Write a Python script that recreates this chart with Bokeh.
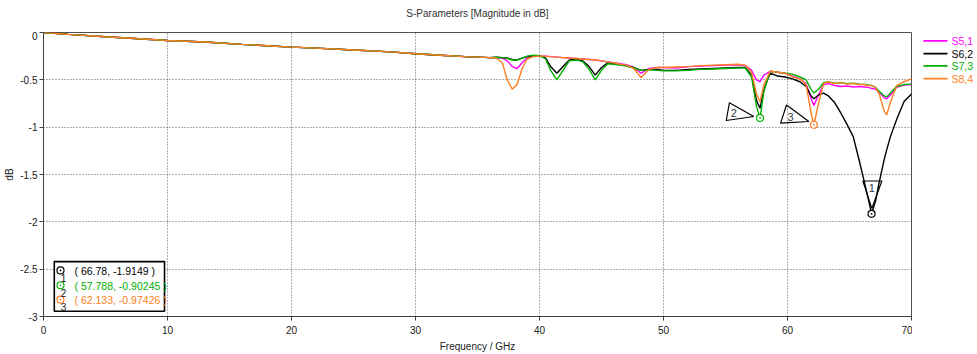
from bokeh.plotting import figure
from bokeh.layouts import row, column
from bokeh.models import Range1d, FixedTicker, ColumnDataSource
from bokeh.embed import file_html
from bokeh.resources import INLINE
from bokeh.core.properties import value

# ---------------- data ----------------
freq = [0, 2, 5, 8, 10, 13, 16, 18, 20, 22, 25, 28, 30, 32, 34, 35, 36,
        36.5, 37, 37.4, 37.8, 38.2, 38.6, 39, 39.5, 40,
        40.5, 40.9, 41.4, 41.9, 42.4, 43, 43.5, 44, 44.5, 45, 45.5, 46, 46.5, 47,
        47.6, 48.2, 48.8, 49.5, 50, 51, 52, 53, 54, 55, 56,
        56.6, 57.1, 57.5, 57.788, 58.1, 58.6, 59.2, 59.8, 60.4,
        61, 61.5, 61.9, 62.133, 62.5, 62.9, 63.3, 63.8, 64.3, 64.8, 65.3, 65.8,
        66.2, 66.5, 66.78, 67.1, 67.4, 67.8, 68.0, 68.3, 68.8, 69.4, 70]

base = [0, -0.02, -0.045, -0.068, -0.085, -0.10, -0.125, -0.14, -0.155, -0.165,
        -0.185, -0.205, -0.225, -0.24, -0.255, -0.26, -0.265]

s51 = base + [-0.265, -0.27, -0.30, -0.36, -0.38, -0.32, -0.27, -0.25, -0.25,
              -0.25, -0.255, -0.26, -0.265, -0.27, -0.275, -0.28, -0.285, -0.29, -0.30, -0.31, -0.32, -0.33, -0.34,
              -0.37, -0.43, -0.38, -0.37, -0.37, -0.375, -0.36, -0.355, -0.35, -0.345, -0.34,
              -0.35, -0.40, -0.50, -0.52, -0.45, -0.41, -0.42, -0.43, -0.46,
              -0.49, -0.54, -0.70, -0.77, -0.66, -0.55, -0.54, -0.56, -0.57, -0.565, -0.575, -0.57,
              -0.575, -0.58, -0.59, -0.60, -0.63, -0.69, -0.70, -0.66, -0.58, -0.555, -0.55]

s62 = base + [-0.262, -0.265, -0.27, -0.285, -0.29, -0.27, -0.255, -0.245, -0.245,
              -0.27, -0.36, -0.43, -0.36, -0.29, -0.285, -0.30, -0.36, -0.45, -0.37, -0.32, -0.33, -0.34, -0.35,
              -0.37, -0.40, -0.39, -0.39, -0.40, -0.40, -0.39, -0.385, -0.38, -0.375, -0.37,
              -0.37, -0.45, -0.72, -0.80, -0.60, -0.43, -0.46, -0.47, -0.49,
              -0.52, -0.57, -0.67, -0.70, -0.66, -0.64, -0.67, -0.74, -0.85, -0.97, -1.10, -1.36,
              -1.58, -1.75, -1.9149, -1.78, -1.58, -1.34, -1.24, -1.10, -0.92, -0.73, -0.65]

s73 = base + [-0.262, -0.265, -0.275, -0.29, -0.29, -0.27, -0.25, -0.24, -0.245,
              -0.28, -0.40, -0.50, -0.40, -0.30, -0.29, -0.31, -0.39, -0.50, -0.40, -0.33, -0.335, -0.345, -0.355,
              -0.375, -0.40, -0.395, -0.40, -0.405, -0.405, -0.40, -0.39, -0.385, -0.38, -0.375,
              -0.375, -0.47, -0.78, -0.90245, -0.62, -0.41, -0.42, -0.43, -0.44,
              -0.47, -0.50, -0.60, -0.64, -0.60, -0.53, -0.52, -0.535, -0.53, -0.54, -0.535, -0.545,
              -0.55, -0.555, -0.56, -0.58, -0.62, -0.67, -0.68, -0.64, -0.57, -0.55, -0.545]

s84 = base + [-0.27, -0.32, -0.50, -0.60, -0.55, -0.38, -0.28, -0.255, -0.25,
              -0.25, -0.255, -0.26, -0.265, -0.27, -0.275, -0.28, -0.285, -0.29, -0.30, -0.31, -0.32, -0.335, -0.345,
              -0.38, -0.475, -0.39, -0.37, -0.37, -0.365, -0.36, -0.35, -0.345, -0.34, -0.335,
              -0.345, -0.42, -0.65, -0.73, -0.55, -0.41, -0.42, -0.43, -0.47,
              -0.49, -0.55, -0.85, -0.97426, -0.75, -0.54, -0.52, -0.54, -0.53, -0.545, -0.54, -0.55,
              -0.55, -0.56, -0.56, -0.58, -0.65, -0.83, -0.87, -0.74, -0.56, -0.52, -0.49]

series_names = ["S5,1", "S6,2", "S7,3", "S8,4"]
series_colors = ["#ff00ff", "#000000", "#00b000", "#ff8020"]

marker_freq = [66.78, 57.788, 62.133]
marker_val = [-1.9149, -0.90245, -0.97426]
marker_ids = ["1", "2", "3"]
marker_colors = ["#000000", "#00b000", "#ff8020"]

x_ticks = [0, 10, 20, 30, 40, 50, 60, 70]
y_ticks = [0, -0.5, -1, -1.5, -2, -2.5, -3]

title_text = "S-Parameters [Magnitude in dB]"

# ---------------- layout constants ----------------
FONT = "Liberation Sans"
FS = "10px"
tri_dx = [[-0.70, 0.83, 0.02], [-2.47, -2.73, -0.51], [-2.21, -2.69, -0.41]]
tri_dy = [[0.346, 0.346, 0.057], [0.161, -0.027, 0.015], [0.209, 0.017, 0.034]]
tri_lbl = [(0.02, 0.277), (-2.12, 0.05), (-1.89, 0.086)]
TOP = 31  # height of the title strip


def blank(width, height, xr, yr):
    f = figure(width=width, height=height, output_backend="svg", toolbar_location=None,
               x_range=Range1d(*xr), y_range=Range1d(*yr),
               x_axis_type=None, y_axis_type=None,
               min_border_left=0, min_border_right=0, min_border_top=0, min_border_bottom=0)
    f.grid.visible = False
    f.outline_line_color = None
    f.background_fill_color = "white"
    f.border_fill_color = "white"
    return f


# ---------------- title strip ----------------
tfig = blank(977, TOP, (0, 977), (TOP, 0))
tfig.text([477], [13], text=[title_text], text_font=value(FONT), text_font_size=FS,
          text_color="#303030", text_align="center", text_baseline="middle")

# ---------------- main plot ----------------
p = figure(width=912, height=354 - TOP, output_backend="svg", toolbar_location=None,
           x_range=Range1d(0, 70), y_range=Range1d(-3, 0),
           min_border_left=43, min_border_right=1, min_border_top=1, min_border_bottom=36)

p.outline_line_color = "#505050"
p.outline_line_width = 1
p.background_fill_color = "white"
p.border_fill_color = "white"

for ax in (p.xaxis[0], p.yaxis[0]):
    ax.axis_line_color = "#404040"
    ax.major_tick_line_color = "#404040"
    ax.major_tick_out = 4
    ax.major_tick_in = 0
    ax.minor_tick_line_color = None
    ax.major_label_text_font = FONT
    ax.major_label_text_font_size = FS
    ax.major_label_text_color = "#202020"
    ax.axis_label_text_font = FONT
    ax.axis_label_text_font_size = FS
    ax.axis_label_text_font_style = "normal"
    ax.axis_label_text_color = "#202020"

p.xaxis.major_label_standoff = 5
p.yaxis.major_label_standoff = 2
p.xaxis.ticker = FixedTicker(ticks=x_ticks)
p.yaxis.ticker = FixedTicker(ticks=y_ticks)
p.yaxis.major_label_overrides = {t: ("%g" % t) for t in y_ticks}
p.xaxis.axis_label = "Frequency / GHz"
p.yaxis.axis_label = "dB"
p.xaxis.axis_label_standoff = 4
p.yaxis.axis_label_standoff = 2

for g in (p.xgrid[0], p.ygrid[0]):
    g.grid_line_color = "#606060"
    g.grid_line_dash = "1 2"
    g.grid_line_width = 1
p.xgrid.ticker = FixedTicker(ticks=x_ticks)
p.ygrid.ticker = FixedTicker(ticks=y_ticks)

for vals, col in zip([s51, s62, s73, s84], series_colors):
    p.line(freq, vals, line_color=col, line_width=1.4)

# markers on curves
msrc = ColumnDataSource(dict(x=marker_freq, y=marker_val, c=marker_colors))
p.scatter("x", "y", source=msrc, marker="circle_dot", size=7, line_color="c",
          fill_color="white", line_width=1.2)

# triangle labels
txs = [[mf + d for d in dx] for mf, dx in zip(marker_freq, tri_dx)]
tys = [[mv + d for d in dy] for mv, dy in zip(marker_val, tri_dy)]
p.patches(txs, tys, fill_alpha=0, line_color="#000000", line_width=1.2)
p.text([mf + o[0] for mf, o in zip(marker_freq, tri_lbl)],
       [mv + o[1] for mv, o in zip(marker_val, tri_lbl)],
       text=marker_ids, text_font=value(FONT), text_font_size="11px",
       text_color="#303848", text_align="center", text_baseline="middle")

# marker info box
p.quad(left=0.87, right=9.76, top=-2.42, bottom=-2.945, fill_color="white",
       line_color="#000000", line_width=1.6)
row_y = [-2.519, -2.676, -2.827]
p.scatter([1.37] * 3, [y + 0.006 for y in row_y], marker="circle_dot", size=7,
          line_color=marker_colors, fill_color="white", line_width=1.2)
p.text([1.62] * 3, [y - 0.075 for y in row_y], text=marker_ids,
       text_font=value(FONT), text_font_size=FS, text_color="#202020",
       text_align="center", text_baseline="middle")
info = ["( %s, %s )" % (f, v) for f, v in zip(marker_freq, marker_val)]
p.text([2.5] * 3, row_y, text=info, text_font=value(FONT), text_font_size="10.5px",
       text_color=marker_colors, text_align="left", text_baseline="middle")

# ---------------- legend panel (right of the plot) ----------------
leg = blank(65, 354 - TOP, (0, 65), (354 - TOP, 0))
leg_y = [40.5 - TOP, 55 - TOP, 69 - TOP, 83.5 - TOP]
leg.segment(x0=[11] * 4, x1=[35] * 4, y0=leg_y, y1=leg_y, line_color=series_colors, line_width=1.6)
leg.text([39] * 4, leg_y, text=series_names, text_font=value(FONT), text_font_size="10.5px",
         text_color=series_colors, text_align="left", text_baseline="middle")

layout = column(tfig, row(p, leg, spacing=0), spacing=0)
open("out.html", "w").write(file_html(layout, INLINE))
